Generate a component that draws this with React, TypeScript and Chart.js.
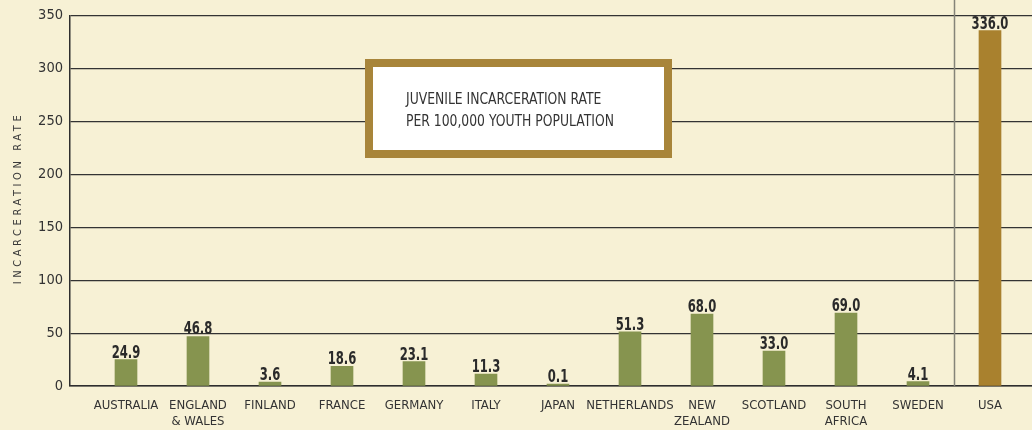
import React, { useEffect, useRef } from "react";
import { Chart, registerables } from "chart.js";

Chart.register(...registerables);

const COUNTRIES: (string | string[])[] = [
  "AUSTRALIA",
  ["ENGLAND", "& WALES"],
  "FINLAND",
  "FRANCE",
  "GERMANY",
  "ITALY",
  "JAPAN",
  "NETHERLANDS",
  ["NEW", "ZEALAND"],
  "SCOTLAND",
  ["SOUTH", "AFRICA"],
  "SWEDEN",
  "USA",
];
const RATES: number[] = [24.9, 46.8, 3.6, 18.6, 23.1, 11.3, 0.1, 51.3, 68.0, 33.0, 69.0, 4.1, 336.0];
const Y_MIN = 0;
const Y_MAX = 350;
const Y_STEP = 50;
const TITLE_LINES = ["JUVENILE INCARCERATION RATE", "PER 100,000 YOUTH POPULATION"];
const Y_TITLE = "INCARCERATION RATE";

const BG = "#f7f1d5";
const GREEN = "#86944f";
const GOLD = "#a9812e";
const TEXT = "#333333";
const COND = "'DejaVu Sans Condensed', 'Liberation Sans', sans-serif";

export default function App() {
  const ref = useRef<HTMLCanvasElement | null>(null);

  useEffect(() => {
    document.body.style.margin = "0";
    document.body.style.background = BG;
    const canvas = ref.current;
    if (!canvas) return;

    const lastIdx = COUNTRIES.length - 1;

    const decor = {
      id: "decor",
      beforeDraw(chart: any) {
        const ctx = chart.ctx;
        ctx.save();
        ctx.fillStyle = BG;
        ctx.fillRect(0, 0, chart.width, chart.height);
        ctx.restore();
      },
      beforeDatasetsDraw(chart: any) {
        const ctx = chart.ctx;
        const xs = chart.scales.x;
        const sx = Math.round(xs.getPixelForValue(lastIdx - 0.5)) + 0.5;
        ctx.save();
        ctx.strokeStyle = "#858478";
        ctx.lineWidth = 1.5;
        ctx.beginPath();
        ctx.moveTo(sx, 0);
        ctx.lineTo(sx, chart.chartArea.bottom);
        ctx.stroke();
        ctx.restore();
      },
      afterDatasetsDraw(chart: any) {
        const ctx = chart.ctx;
        const meta = chart.getDatasetMeta(0);
        ctx.save();
        ctx.fillStyle = "#2a2a2a";
        ctx.font = `bold 17px ${COND}`;
        ctx.textAlign = "center";
        ctx.textBaseline = "alphabetic";
        meta.data.forEach((bar: any, i: number) => {
          ctx.save();
          ctx.translate(bar.x, bar.y - 2);
          ctx.scale(0.76, 1);
          ctx.fillText(RATES[i].toFixed(1), 0, 0);
          ctx.restore();
        });

        // title box
        const bx = 365, by = 59, bw = 307, bh = 99, bt = 8;
        ctx.fillStyle = "#a8853a";
        ctx.fillRect(bx, by, bw, bh);
        ctx.fillStyle = "#ffffff";
        ctx.fillRect(bx + bt, by + bt, bw - 2 * bt, bh - 2 * bt);
        ctx.fillStyle = TEXT;
        ctx.font = `16px ${COND}`;
        ctx.textAlign = "left";
        ctx.save();
        ctx.translate(406, 0);
        ctx.scale(0.86, 1);
        ctx.fillText(TITLE_LINES[0], 0, 104);
        ctx.fillText(TITLE_LINES[1], 0, 126);
        ctx.restore();

        // y axis title
        ctx.translate(21, 200);
        ctx.rotate(-Math.PI / 2);
        ctx.font = `11px ${COND}`;
        (ctx as any).letterSpacing = "3.6px";
        ctx.textAlign = "center";
        ctx.fillStyle = "#3a3a3a";
        ctx.fillText(Y_TITLE, 2, 0);
        ctx.restore();
      },
    };

    const chart = new Chart(canvas, {
      type: "bar",
      data: {
        datasets: [
          {
            data: RATES.map((v, i) => ({ x: i, y: v })),
            backgroundColor: RATES.map((_, i) => (i === lastIdx ? GOLD : GREEN)),
            barThickness: 22,
            minBarLength: 2,
            borderWidth: 0,
          },
        ],
      },
      options: {
        responsive: false,
        animation: false,
        events: [],
        layout: { padding: { top: 14, right: 0, left: 0, bottom: 0 } },
        plugins: {
          legend: { display: false },
          tooltip: { enabled: false },
        },
        scales: {
          x: {
            type: "linear",
            offset: false,
            min: -56 / 72,
            max: 906 / 72,
            afterFit: (s: any) => {
              s.height = 44;
            },
            grid: { display: false, drawTicks: false },
            border: { display: true, color: "#2e2e2e", width: 1.5 },
            ticks: {
              stepSize: 1,
              includeBounds: false,
              autoSkip: false,
              maxRotation: 0,
              minRotation: 0,
              maxTicksLimit: 100,
              padding: 11,
              color: TEXT,
              font: { family: COND, size: 13, lineHeight: 1.25 },
              callback: (value: any) => {
                const v = Number(value);
                if (Number.isInteger(v) && v >= 0 && v < COUNTRIES.length) return COUNTRIES[v] as any;
                return "";
              },
            },
          },
          y: {
            min: Y_MIN,
            max: Y_MAX,
            afterFit: (s: any) => {
              s.width = 70;
            },
            grid: { color: "#333333", lineWidth: 1.2, drawTicks: false },
            border: { display: true, color: "#2e2e2e", width: 1.5 },
            ticks: {
              stepSize: Y_STEP,
              padding: 7,
              color: TEXT,
              font: { family: COND, size: 14.5 },
            },
          },
        },
      },
      plugins: [decor],
    } as any);

    return () => chart.destroy();
  }, []);

  return (
    <div style={{ width: 1032, height: 430, background: BG }}>
      <canvas ref={ref} width={1032} height={430} style={{ display: "block" }} />
    </div>
  );
}
